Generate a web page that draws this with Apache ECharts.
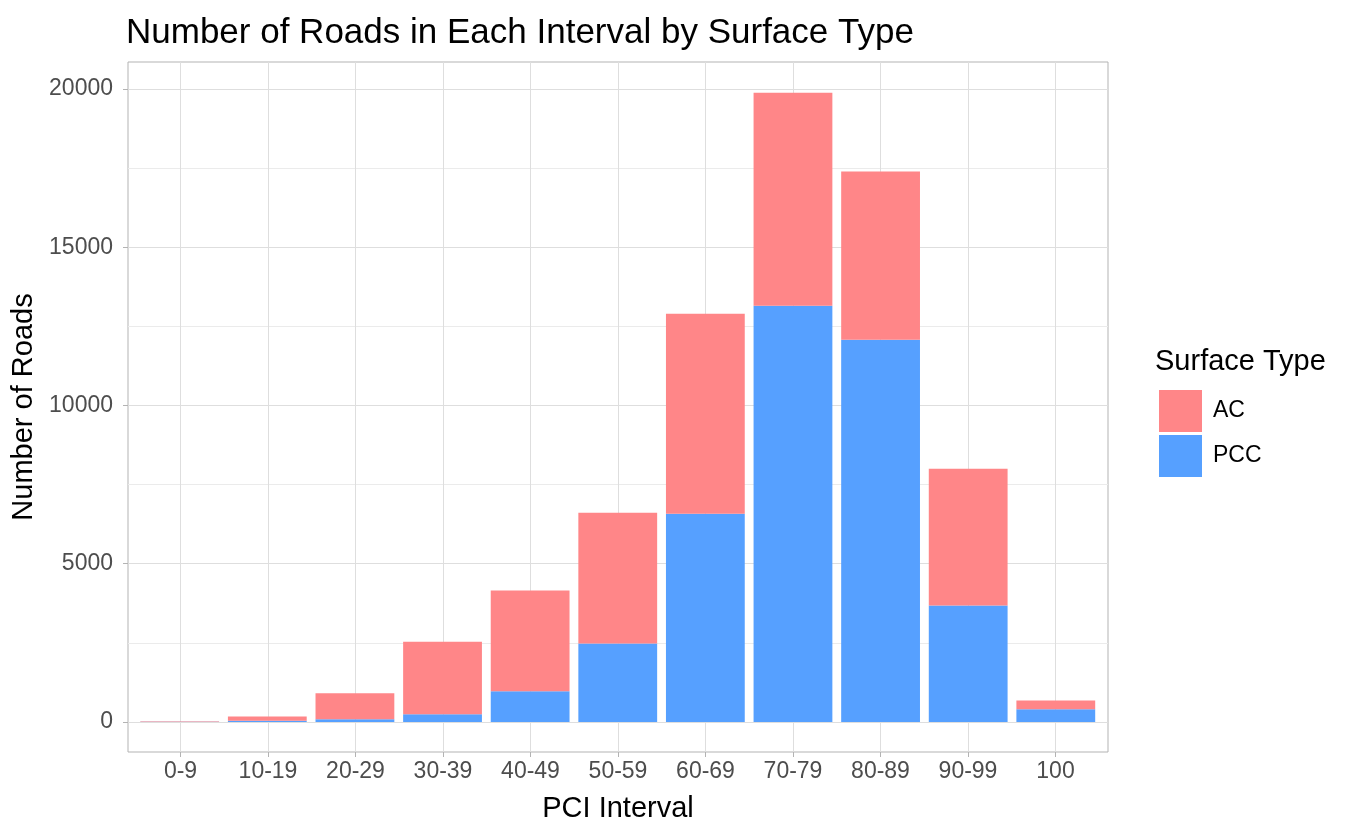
<!DOCTYPE html>
<html><head><meta charset="utf-8">
<script src="https://cdn.jsdelivr.net/npm/echarts@6/dist/echarts.min.js"></script>
<style>html,body{margin:0;padding:0;background:#fff}#c{width:1356px;height:838px}</style>
</head><body><div id="c"></div>
<script>
const categories = ['0-9','10-19','20-29','30-39','40-49','50-59','60-69','70-79','80-89','90-99','100'];
const pccValues = [5, 40, 85, 240, 970, 2480, 6580, 13150, 12080, 3680, 400];
const acValues  = [15, 130, 820, 2290, 3180, 4130, 6320, 6730, 5310, 4320, 275];
const yTicks = [0, 5000, 10000, 15000, 20000];
const yMinor = [2500, 7500, 12500, 17500];

const FONT = '"Liberation Sans", Arial, Helvetica, sans-serif';
const chart = echarts.init(document.getElementById('c'), null, {renderer:'canvas'});
const idx = categories.map((_, i) => i);
const YMIN = -950, YMAX = 20853;
chart.setOption({
  animation: false,
  textStyle: {fontFamily: FONT},
  title: [
    {text: 'Number of Roads in Each Interval by Surface Type', left: 121, top: 11,
     textStyle: {fontFamily: FONT, fontSize: 35, fontWeight: 'normal', color: '#000'}},
    {text: 'Surface Type', left: 1150, top: 342,
     textStyle: {fontFamily: FONT, fontSize: 29, fontWeight: 'normal', color: '#000'}}
  ],
  legend: {
    data: ['AC', 'PCC'], orient: 'vertical', left: 1154, top: 385,
    itemWidth: 43, itemHeight: 42, itemGap: 3, icon: 'rect',
    textStyle: {fontFamily: FONT, fontSize: 23, color: '#000', padding: [0,0,0,6]}
  },
  grid: [
    {left: 128, right: 248, top: 62, bottom: 86, show: true, borderColor: '#B3B3B3', borderWidth: 1},
    {left: 135.9, right: 256.4, top: 62, bottom: 86, show: false}
  ],
  xAxis: [{
    gridIndex: 0, type: 'value', min: -0.6, max: 10.6,
    name: 'PCI Interval', nameLocation: 'middle', nameGap: 42,
    nameTextStyle: {fontFamily: FONT, fontSize: 29, color: '#000'},
    axisLine: {show: false, onZero: false},
    axisTick: {show: true, customValues: idx, length: 5, lineStyle: {color: '#B3B3B3'}},
    axisLabel: {customValues: idx, formatter: v => categories[Math.round(v)], fontSize: 23, color: '#4D4D4D', margin: 8, fontFamily: FONT},
    splitLine: {show: true, lineStyle: {color: '#DEDEDE', width: 1}}
  }, {
    gridIndex: 1, type: 'category', data: categories, show: false
  }],
  yAxis: [{
    gridIndex: 0, type: 'value', min: YMIN, max: YMAX,
    name: 'Number of Roads', nameLocation: 'middle', nameGap: 80,
    nameTextStyle: {fontFamily: FONT, fontSize: 29, color: '#000'},
    axisLine: {show: false, onZero: false},
    axisTick: {show: true, customValues: yTicks, length: 5, lineStyle: {color: '#B3B3B3'}},
    axisLabel: {customValues: yTicks, formatter: v => String(v), fontSize: 23, color: '#4D4D4D', margin: 15, fontFamily: FONT},
    splitLine: {show: true, lineStyle: {color: '#DEDEDE', width: 1}}
  }, {
    gridIndex: 1, type: 'value', min: YMIN, max: YMAX, show: false, splitLine: {show: false}
  }, {
    gridIndex: 0, type: 'value', min: YMIN, max: YMAX,
    axisLine: {show: false, onZero: false},
    axisTick: {show: false, customValues: yMinor},
    axisLabel: {show: false, customValues: yMinor},
    splitLine: {show: true, lineStyle: {color: '#EBEBEB', width: 1}}
  }],
  series: [
    {name: 'PCC', type: 'bar', stack: 's', xAxisIndex: 1, yAxisIndex: 1, barWidth: 78.8,
     itemStyle: {color: '#56A0FF'}, data: pccValues},
    {name: 'AC', type: 'bar', stack: 's', xAxisIndex: 1, yAxisIndex: 1, barWidth: 78.8,
     itemStyle: {color: '#FF8688'}, data: acValues}
  ]
});
</script></body></html>
